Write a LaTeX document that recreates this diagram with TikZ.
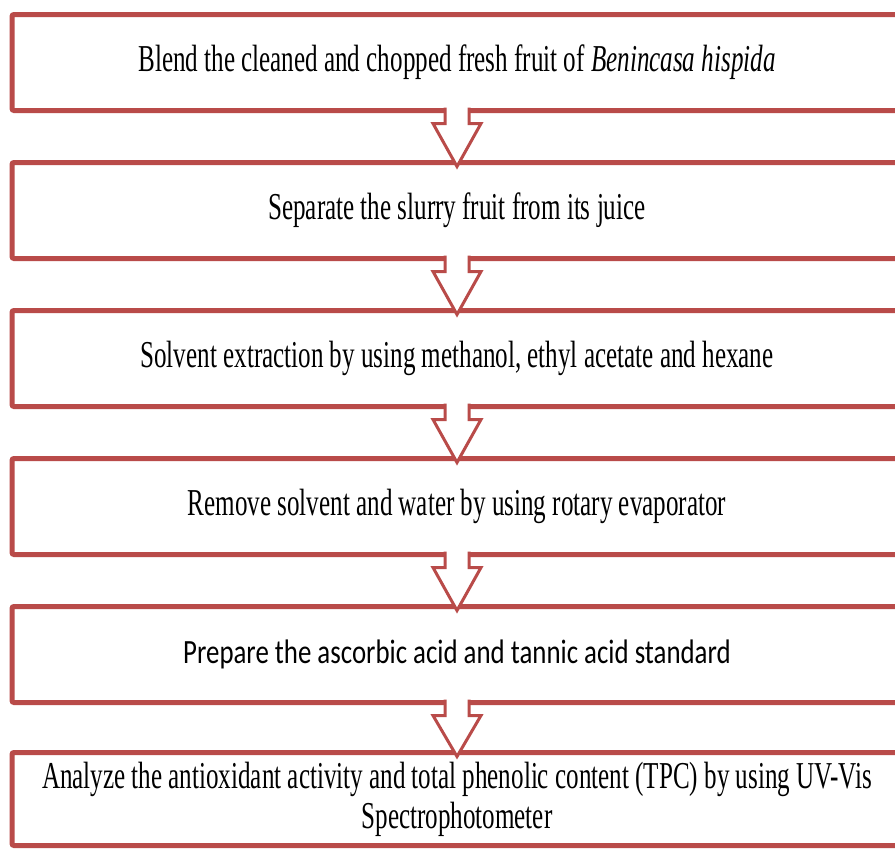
\documentclass[tikz,border=0pt]{standalone}
\usepackage{fontspec}
\setmainfont{Liberation Serif}[FakeStretch=0.66]
\newfontfamily\calibrifont{Carlito}[FakeStretch=0.79]
\usetikzlibrary{positioning, calc}
\definecolor{boxred}{RGB}{185,75,73}

\begin{document}
\begin{tikzpicture}[x=0.5pt, y=-0.5pt,
  stepbox/.style={draw=boxred, line width=2.5pt, fill=white, rounded corners=1pt,
    minimum width=445pt, minimum height=48pt, inner sep=0pt, outer sep=0pt,
    align=center, font=\fontsize{19pt}{20pt}\selectfont},
  flowarrow/.style={draw=boxred, line width=1.5pt, fill=white, line join=miter},
  node distance=26pt]
\useasboundingbox (0,0) rectangle (895,848);

% process steps
\node[stepbox] (blend) at (457,62.5) {Blend the cleaned and chopped fresh fruit of \textit{Benincasa hispida}};
\node[stepbox, below=of blend] (separate) {Separate the slurry fruit from its juice};
\node[stepbox, below=of separate] (extract) {Solvent extraction by using methanol, ethyl acetate and hexane};
\node[stepbox, below=of extract] (evaporate) {Remove solvent and water by using rotary evaporator};
\node[stepbox, below=of evaporate, font=\calibrifont\fontsize{17pt}{20pt}\selectfont] (standard) {Prepare the ascorbic acid and tannic acid standard};
\node[stepbox, below=25pt of standard, minimum height=46.5pt] (analyze) {Analyze the antioxidant activity  and total phenolic content  (TPC) by using UV-Vis\\Spectrophotometer};

% hollow arrows between the steps
\draw[flowarrow] ($(blend.south)+(-12,-3)$) -- ++(0,16) -- ++(-12,0) -- ($(separate.north)+(0,4)$) -- ($(blend.south)+(24,13)$) -- ++(-12,0) -- ++(0,-16);
\draw[flowarrow] ($(separate.south)+(-12,-3)$) -- ++(0,16) -- ++(-12,0) -- ($(extract.north)+(0,4)$) -- ($(separate.south)+(24,13)$) -- ++(-12,0) -- ++(0,-16);
\draw[flowarrow] ($(extract.south)+(-12,-3)$) -- ++(0,16) -- ++(-12,0) -- ($(evaporate.north)+(0,4)$) -- ($(extract.south)+(24,13)$) -- ++(-12,0) -- ++(0,-16);
\draw[flowarrow] ($(evaporate.south)+(-12,-3)$) -- ++(0,16) -- ++(-12,0) -- ($(standard.north)+(0,4)$) -- ($(evaporate.south)+(24,13)$) -- ++(-12,0) -- ++(0,-16);
\draw[flowarrow] ($(standard.south)+(-12,-3)$) -- ++(0,16) -- ++(-12,0) -- ($(analyze.north)+(0,4)$) -- ($(standard.south)+(24,13)$) -- ++(-12,0) -- ++(0,-16);
\end{tikzpicture}
\end{document}
